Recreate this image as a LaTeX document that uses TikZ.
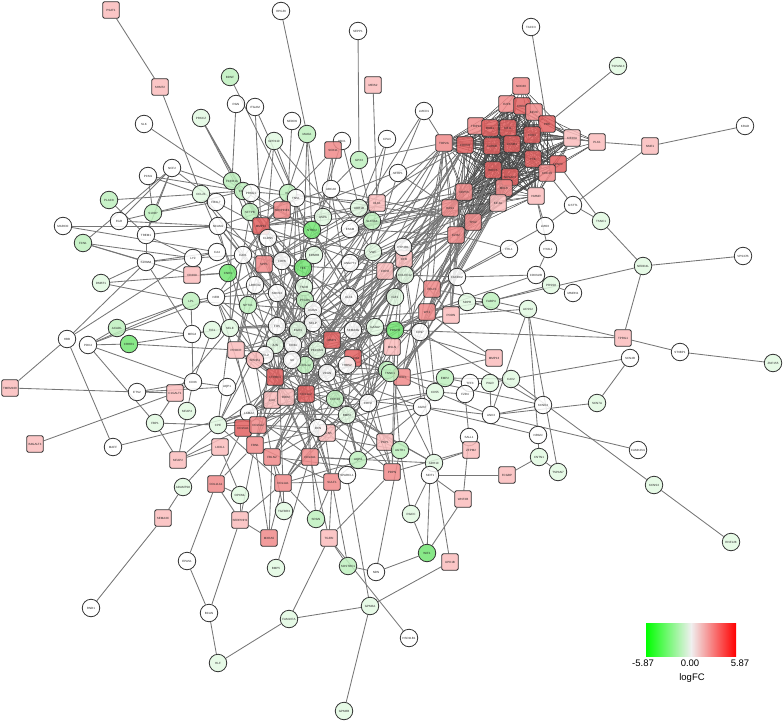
\documentclass[tikz,border=0pt]{standalone}
\usepackage{fontspec}
\setmainfont{Liberation Sans}
\usetikzlibrary{positioning,backgrounds}
\definecolor{gA}{RGB}{226,249,226}
\definecolor{gB}{RGB}{190,240,190}
\definecolor{gC}{RGB}{115,228,115}
\definecolor{rA}{RGB}{250,188,188}
\definecolor{rB}{RGB}{240,138,138}
\definecolor{rC}{RGB}{226,96,96}
\definecolor{edgegray}{RGB}{118,118,118}
\tikzset{
  gene/.style={draw=black!80, line width=0.8pt, inner sep=0pt, text=black!85,
    font=\fontsize{3}{3.5}\selectfont, fill opacity=0.85, text opacity=1},
  cw/.style={gene, circle, minimum size=17.5pt, fill=white},
  cg1/.style={gene, circle, minimum size=17.5pt, fill=gA},
  cg2/.style={gene, circle, minimum size=17.5pt, fill=gB},
  cg3/.style={gene, circle, minimum size=17.5pt, fill=gC},
  cr1/.style={gene, circle, minimum size=17.5pt, fill=rA},
  sr1/.style={gene, rectangle, rounded corners=1.5pt, minimum size=16.5pt, fill=rA},
  sr2/.style={gene, rectangle, rounded corners=1.5pt, minimum size=16.5pt, fill=rB},
  sr3/.style={gene, rectangle, rounded corners=1.5pt, minimum size=16.5pt, fill=rC},
  edge/.style={draw=edgegray, line width=0.85pt},
  kedge/.style={draw=black!72, line width=0.5pt}
}
\begin{document}
\begin{tikzpicture}[x=1pt, y=-1pt]
  \useasboundingbox (0,0) rectangle (784,722);
  % outer genes
  \foreach \n/\x/\y in {SLK/144/124, PCM1/148/176, NCF2/172/168, FGR/119/221,
      MARCO/63/226, TREM1/146/235, RPGRI/281/11, SEPP1/358/31, RGN/236/104,
      ITGAM/255/107, NEDD9/292/121, PBX1/342/141, CPA3/387/139, TACC3/531/27,
      LMCD1/424/111, KRAD/745/126, SFRP1/398/173, GSTT1/573/205, LMO3/545/226,
      VPS37B/743/256, SCN4B/630/358, ST6BP1/680/352, CAMK2N1/638/450,
      FHL1/509/249, HYAL1/548/249, CDKN2B/536/275, MMRN1/573/293,
      FAXDC2/457/277, KCNK3/543/405, NRGN/538/435, ANK3/491/415, TFF3/470/383,
      FZD4/465/394, SALL1/469/437, HSD11B1/409/638, NDN/376/572, BCAN/209/613,
      EPAS1/187/561, RND1/91/608, S100A8/146/262, LYZ/193/258, HBB/67/339,
      PDK4/88/345, MEG3/192/334, ETS2/137/392, CD36/193/382, MAFF/113/447}
    \node[cw] (\n) at (\x,\y) {\n};
  \foreach \n/\x/\y in {PRKCZ/201/118, GPR110/274/141, TSPAN13/618/66,
      TSNC1/601/221, NEDD4L/643/266, ZNF155/773/363, SCN7A/597/403,
      KCNS3/654/485, RNF128/731/542, PRSS8/551/285, ACSS2/528/309, SDPR/467/302,
      CAV2/511/379, PIGR/490/383, CNTN1/539/457, TSPAN7/558/472, RGCC/411/514,
      GPM6A/370/606, GPM6B/344/711, FAM107A/289/619, BMP5/276/568, HLF/218/663,
      ADAMTS8/183/487, TGFBR3/284/511, OPCML/240/495, DMBT1/101/283,
      MFAP4/187/411, FBP1/155/423}
    \node[cg1] (\n) at (\x,\y) {\n};
  \foreach \n/\x/\y in {PLAC8/109/200, S100P/153/213, FCN1/83/243, BDNF/230/77,
      MAOA/307/134, GPX3/359/160, FABP4/491/301, SOSTDC1/348/566, SRGN/316/519,
      LPL/191/301, ACADL/117/328}
    \node[cg2] (\n) at (\x,\y) {\n};
  \foreach \n/\x/\y in {WIF1/427/553, CRHR1/129/344}
    \node[cg3] (\n) at (\x,\y) {\n};
  \foreach \n/\x/\y in {PSAT1/111/10, SHMT2/160/87, MEIS2/373/85, PLK1/597/142,
      NME1/650/146, TPRG1/623/338, MMP13/494/358, ZFPM2/471/450, FCGBP/507/475,
      WNT2B/463/499, UPK1B/450/562, TGFBI/329/538, SEMA3C/163/518,
      SERPINH1/240/520, CD209/192/275, TMEM100/10/388, C1GALT1/175/393,
      B4GALT4/35/444, MFAP2/178/460}
    \node[sr1] (\n) at (\x,\y) {\n};
  \foreach \n/\x/\y in {SOX11/333/150, NDC80/521/86, MXRA5/269/538,
      COL11A1/216/484}
    \node[sr2] (\n) at (\x,\y) {\n};
  % core of the network
  \foreach \i/\x/\y/\s/\t in {1/201/194/cg1/CCL21, 2/216/202/cw/FBXL7,
      3/232/181/cg2/FCER1A, 4/243/191/cg2/CD1C, 5/251/193/cw/PRKG1,
      6/288/193/cg2/KIT, 7/296/198/cw/TNS1, 8/282/210/sr2/SERPINE1,
      9/331/189/cw/ABCA8, 10/377/203/sr1/DLK1, 11/359/208/cg1/ADH1B,
      12/250/212/cg2/SFTPB, 13/261/226/sr3/MMP11, 14/323/217/cg1/ASPA,
      15/312/230/cg3/NTRK2, 16/372/221/cg2/SLC6A4, 17/350/229/cw/ESAM,
      18/218/226/cw/NCAM1, 19/268/238/cw/CLDN5, 20/217/252/cw/CA4,
      21/243/255/cw/CAV1, 22/264/264/sr2/SPP1, 23/282/261/cw/CDH5,
      24/303/268/cg3/TEK, 25/314/255/cg1/EDNRB, 26/350/263/cw/ANGPT1,
      27/373/252/cg1/VWF, 28/385/271/sr1/CDH3, 29/228/273/cg3/CNR1,
      30/216/297/cw/NFIB, 31/248/305/cg2/NPTX1, 32/255/285/cw/LRRC32,
      33/277/293/cw/SOCS3, 34/304/287/cg1/TNXB, 35/305/300/cg2/PTGDS,
      36/349/297/cw/KLF4, 37/313/310/cw/ICAM1, 38/313/323/cw/SELP,
      39/277/326/cw/FOS, 40/298/330/cg1/EGR1, 41/212/330/cg1/TIE1,
      42/230/328/cg1/SELE, 43/275/345/cg1/JUN, 44/293/345/cw/CD34,
      45/317/350/cg1/PECAM1, 46/332/340/sr3/MMP1, 47/353/330/cw/SEMA3G,
      48/375/327/cg1/GATA2, 49/353/358/sr3/COL10A1, 50/347/365/cw/THBS2,
      51/305/365/cg2/CXCL12, 52/292/360/cw/IL6, 53/265/355/cw/CCL2,
      54/255/360/cr1/SPINK1, 55/236/350/sr1/PROCR, 56/327/373/cw/VCAN,
      57/387/370/cg2/TCF21, 58/275/377/sr3/CTHRC1, 59/272/400/sr1/LOX,
      60/286/397/sr1/DDR2, 61/306/394/sr3/COL1A2, 62/335/399/cg2/CDH19,
      63/368/403/cw/CDH2, 64/347/415/cg1/BMP2, 65/227/387/cw/AQP1,
      66/218/425/cg1/CPE, 67/249/413/cw/LAMA2, 68/243/428/sr3/COL5A1,
      69/258/425/sr2/COL5A2, 70/255/445/sr2/FBN1, 71/220/447/sr1/LOXL1,
      72/272/457/sr2/FBLN2, 73/310/457/sr2/COL3A1, 74/327/433/sr1/FBLN5,
      75/318/428/cw/DCN, 76/358/460/cg2/AQP4, 77/385/442/sr1/PKP1,
      78/283/483/sr2/COL1A1, 79/332/482/sr2/SULF1, 80/347/475/cw/SPARCL1,
      81/392/472/sr2/PDPN, 82/404/259/sr1/CFB, 83/432/289/sr2/CRLF1,
      84/427/312/sr2/WT1, 85/451/315/sr1/PODN, 86/402/377/sr2/FOXF1,
      87/392/347/sr1/MSLN, 88/405/275/cg1/COLEC12, 89/395/297/cg1/IGF1,
      90/395/330/cg3/PDGFD, 91/390/373/cg2/TNNC1, 92/445/378/cg2/EMP2,
      93/400/450/cg2/AGTR1, 94/434/463/cg1/ADH1C, 95/420/332/cw/CD97,
      96/435/392/cg1/CD55, 97/422/407/cw/AGR2, 98/430/475/cw/SIDT1,
      99/403/247/cw/CYP4B1}
    \node[\s] (c\i) at (\x,\y) {\t};
  % proliferation cluster
  \foreach \i/\x/\y/\s/\t in {1/507/104/sr2/E2F8, 2/522/106/sr3/CHEK1,
      3/534/112/sr2/KIF2C, 4/547/124/sr3/PBK, 5/476/126/sr2/TRIP13,
      6/490/128/sr3/BUB1, 7/508/128/sr3/KIF11, 8/532/135/sr3/CDK1,
      9/572/138/sr1/KIF20A, 10/444/143/sr2/TOP2A, 11/465/145/sr3/CDKN3,
      12/492/146/sr3/AURKB, 13/512/144/sr3/CCNB1, 14/533/159/sr3/TTK,
      15/558/164/sr3/CENPF, 16/493/170/sr3/BIRC5, 17/510/177/sr3/NUSAP1,
      18/547/173/sr2/CDC20, 19/504/188/sr2/MELK, 20/464/192/sr2/CEP55,
      21/536/196/sr1/HMMR, 22/498/203/sr1/KIF4A, 23/450/208/sr2/HAS1,
      24/473/222/sr2/TPX2, 25/456/235/sr2/EZH2}
    \node[\s] (k\i) at (\x,\y) {\t};

  \begin{scope}[on background layer]
    \foreach \i in {1,...,24}{
      \pgfmathtruncatemacro\jj{\i+1}
      \foreach \j in {\jj,...,25} \draw[kedge] (k\i) -- (k\j);
    }
    \foreach \i in {1,...,9} \draw[kedge] (NDC80) -- (k\i);
    \foreach \i in {3,4,8,9,14,15,18} \draw[kedge] (PLK1) -- (k\i);
    \foreach \i in {1,...,98}{
      \pgfmathtruncatemacro\jj{\i+1}
      \pgfmathtruncatemacro\jm{min(\i+45,99)}
      \foreach \j in {\jj,...,\jm}{
        \pgfmathtruncatemacro\r{mod(7*mod(\i*\j,9)+\i+4*\j,9)}
        \ifnum\r=0 \draw[edge] (c\i) -- (c\j);\fi
      }
    }
    \foreach \k in {10,11,16,19,20,22,23,24,25}
      \foreach \c in {6,9,13,17,22,26,28,36,37,46,47,49,61,82,83,84,85,86,87,90,95,99}{
        \pgfmathtruncatemacro\r{mod(\k+\c,3)}
        \ifnum\r=0 \draw[edge] (k\k) -- (c\c);\fi
      }
    \foreach \a/\b in {PSAT1/SHMT2, SHMT2/c1, SLK/c4, PRKCZ/c4, PRKCZ/c12,
        PRKCZ/c13, BDNF/c6, RGN/c3, ITGAM/c7, ITGAM/c13, NEDD9/c6, RPGRI/MAOA,
        MAOA/c15, MAOA/c14, MAOA/c8, MAOA/c24, GPR110/c12, GPR110/c7,
        GPR110/c17, GPR110/c22, SEPP1/GPX3, GPX3/k10, GPX3/c16, GPX3/c9,
        MEIS2/c10, SOX11/PBX1, SOX11/c9, SOX11/c13, SOX11/c25, PBX1/c11,
        PBX1/c15, CPA3/c16, CPA3/c11, TACC3/k4, LMCD1/k10, LMCD1/c17,
        LMCD1/SFRP1, SFRP1/k23, SFRP1/c27, TSPAN13/k4, PLK1/NME1, NME1/KRAD,
        NME1/GSTT1, GSTT1/TSNC1, GSTT1/k18, GSTT1/LMO3, LMO3/k21, LMO3/c83,
        TSNC1/NEDD4L, TSNC1/k15, NEDD4L/VPS37B, NEDD4L/FABP4, NEDD4L/TPRG1,
        TPRG1/ST6BP1, ST6BP1/ZNF155, TPRG1/c90, TPRG1/SDPR, SCN4B/SCN7A,
        SCN4B/CAV2, SCN7A/ANK3, CAMK2N1/ANK3, KCNS3/CAV2, KCNS3/RNF128,
        FHL1/c83, FHL1/k25, HYAL1/CDKN2B, HYAL1/k21, CDKN2B/PRSS8,
        CDKN2B/FAXDC2, CDKN2B/c84, PRSS8/MMRN1, PRSS8/FABP4, ACSS2/FABP4,
        ACSS2/ANK3, ACSS2/NRGN, ACSS2/TSPAN7, ACSS2/c85, FAXDC2/c83,
        FAXDC2/c88, FAXDC2/SDPR, SDPR/FABP4, SDPR/c85, SDPR/c84, FABP4/c83,
        FABP4/c84, MMP13/c84, MMP13/c86, MMP13/c90, KCNK3/ANK3, KCNK3/c95,
        KCNK3/c91, NRGN/CNTN1, NRGN/c97, CAV2/PIGR, PIGR/TFF3, TFF3/FZD4,
        TFF3/c92, PIGR/ANK3, ANK3/c97, ANK3/c96, FZD4/c96, FZD4/SALL1,
        SALL1/ZFPM2, ZFPM2/c94, ZFPM2/c81, FCGBP/CNTN1, FCGBP/c98, CAV2/c92,
        TSPAN7/CNTN1, WIF1/RGCC, WIF1/WNT2B, WIF1/c98, WIF1/NDN, UPK1B/c94,
        UPK1B/GPM6A, WNT2B/c98, WNT2B/SALL1, RGCC/c93, RGCC/c98,
        HSD11B1/TGFBI, GPM6A/GPM6B, GPM6A/FAM107A, GPM6A/c80, NDN/SOSTDC1,
        NDN/c93, SOSTDC1/TGFBI, SOSTDC1/c79, TGFBI/c81, TGFBI/c79, TGFBI/c73,
        TGFBI/FAM107A, BMP5/c73, FAM107A/HLF, HLF/BCAN, BCAN/SERPINH1,
        BCAN/EPAS1, EPAS1/COL11A1, SEMA3C/ADAMTS8, SEMA3C/RND1, ADAMTS8/c71,
        SERPINH1/COL11A1, SERPINH1/OPCML, SERPINH1/c70, SERPINH1/c78,
        SERPINH1/MXRA5, MXRA5/c70, MXRA5/c72, MXRA5/c78, TGFBR3/c72,
        TGFBR3/c78, SRGN/c79, SRGN/c78, SRGN/c61, OPCML/c71, OPCML/COL11A1,
        COL11A1/c70, COL11A1/c68, PCM1/S100P, PCM1/c1, PCM1/c4, NCF2/S100P,
        NCF2/FGR, NCF2/TREM1, NCF2/c4, NCF2/c2, PLAC8/c1, PLAC8/TREM1,
        FGR/S100P, FGR/c18, MARCO/c18, MARCO/c20, S100P/c2, S100P/TREM1,
        S100P/c4, TREM1/c18, TREM1/S100A8, TREM1/LYZ, FCN1/NCF2, FCN1/S100A8,
        FCN1/LYZ, FCN1/CD209, S100A8/LYZ, S100A8/DMBT1, S100A8/MEG3,
        S100A8/c20, LYZ/c20, LYZ/c21, LYZ/CD209, CD209/c21, CD209/c29,
        DMBT1/LPL, DMBT1/c29, HBB/S100A8, HBB/LYZ, HBB/TMEM100, HBB/MAFF,
        ACADL/PDK4, ACADL/LPL, ACADL/MEG3, PDK4/CRHR1, CRHR1/MEG3, CRHR1/c55,
        PDK4/LPL, PDK4/FBP1, PDK4/CD36, PDK4/c30, LPL/MEG3, LPL/c30, LPL/c31,
        MEG3/CD36, MEG3/c42, MEG3/c41, TMEM100/ETS2, ETS2/CD36, ETS2/C1GALT1,
        ETS2/c65, CD36/C1GALT1, CD36/MFAP4, CD36/c65, CD36/c41,
        C1GALT1/B4GALT4, C1GALT1/FBP1, C1GALT1/c42, FBP1/MFAP2, FBP1/c66,
        MAFF/c67, MFAP4/MFAP2, MFAP2/c68, MFAP2/c71, MFAP2/c66, c78/c79,
        c78/c72, k25/c82, k20/c28, k23/c17, k24/c84, k25/c85, k10/c27,
        c99/c82, c99/k25, c99/c26}
      \draw[edge] (\a) -- (\b);
  \end{scope}

  % legend
  \shade[left color=green, right color=red, middle color=white!94!black]
    (646,623) rectangle (736,656);
  \node[font=\fontsize{9.5}{11}\selectfont] (lmin) at (643,663) {-5.87};
  \node[font=\fontsize{9.5}{11}\selectfont] (lmid) at (690,663) {0.00};
  \node[font=\fontsize{9.5}{11}\selectfont] (lmax) at (740,663) {5.87};
  \node[font=\fontsize{9.5}{11}\selectfont] (ltitle) at (692,678) {logFC};
\end{tikzpicture}
\end{document}
